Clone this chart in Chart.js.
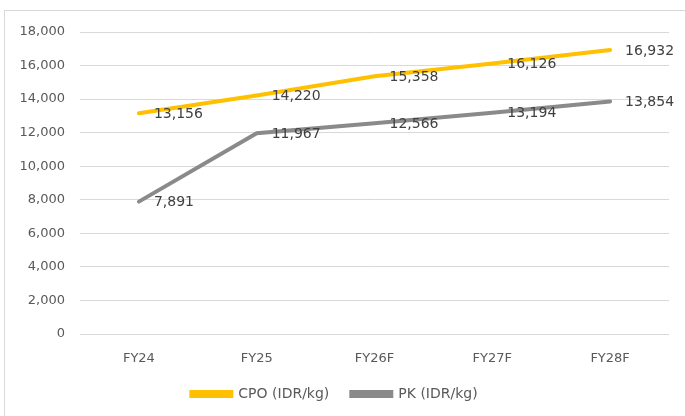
<!DOCTYPE html>
<html>
<head>
<meta charset="utf-8">
<script src="https://cdn.jsdelivr.net/npm/chart.js@4.4.1/dist/chart.umd.min.js"></script>
<style>
    html, body { margin: 0; padding: 0; background: #fff; overflow: hidden; }
    #wrap { position: relative; width: 685px; height: 416px; }
    #frame { position: absolute; left: 4px; top: 10px; width: 700px; height: 430px; border: 1px solid #d9d9d9; box-sizing: border-box; }
    canvas { position: absolute; left: 0; top: 0; }
</style>
</head>
<body>
<div id="wrap">
    <div id="frame"></div>
    <canvas id="priceChart" width="685" height="416"></canvas>
</div>
<script>
const years = ['FY24', 'FY25', 'FY26F', 'FY27F', 'FY28F'];
const cpoPrices = [13156, 14220, 15358, 16126, 16932];
const pkPrices = [7891, 11967, 12566, 13194, 13854];
const yTicks = [0, 2000, 4000, 6000, 8000, 10000, 12000, 14000, 16000, 18000];

const FONT = '"DejaVu Sans", sans-serif';

//  Value labels to the right of each point
const pointLabels = {
    id: 'pointLabels',
    afterDatasetsDraw(chart) {
        const ctx = chart.ctx;
        ctx.save();
        ctx.font = '14px ' + FONT;
        ctx.fillStyle = '#404040';
        ctx.textAlign = 'left';
        ctx.textBaseline = 'middle';
        chart.data.datasets.forEach((ds, i) => {
            chart.getDatasetMeta(i).data.forEach((pt, j) => {
                ctx.fillText(ds.data[j].toLocaleString('en-US'), pt.x + 15, pt.y + 1);
            });
        });
        ctx.restore();
    }
};

new Chart(document.getElementById('priceChart'), {
    type: 'line',
    data: {
        labels: years,
        datasets: [{
            label: 'CPO (IDR/kg)',
            data: cpoPrices,
            borderColor: '#FFC000',
            backgroundColor: '#FFC000',
            borderWidth: 4,
            borderCapStyle: 'round',
            pointRadius: 0,
            tension: 0
        }, {
            label: 'PK (IDR/kg)',
            data: pkPrices,
            borderColor: '#8A8A8A',
            backgroundColor: '#8A8A8A',
            borderWidth: 4,
            borderCapStyle: 'round',
            pointRadius: 0,
            tension: 0
        }]
    },
    options: {
        responsive: false,
        animation: false,
        layout: { padding: { top: 32, right: 16, left: 0, bottom: 5 } },
        plugins: {
            legend: {
                position: 'bottom',
                labels: {
                    boxWidth: 40,
                    boxHeight: 4,
                    padding: 22,
                    color: '#595959',
                    font: { family: FONT, size: 14 }
                }
            },
            tooltip: { enabled: false }
        },
        scales: {
            x: {
                offset: true,
                grid: { display: false, drawTicks: false },
                border: { display: false },
                ticks: { color: '#595959', font: { family: FONT, size: 13 }, padding: 17 },
                afterFit(axis) { axis.height = 31; }
            },
            y: {
                min: 0,
                max: 18000,
                afterBuildTicks(axis) { axis.ticks = yTicks.map(v => ({ value: v })); },
                grid: { color: '#d9d9d9', lineWidth: 1, drawTicks: false },
                border: { display: false },
                ticks: {
                    color: '#595959',
                    font: { family: FONT, size: 13 },
                    padding: 15,
                    callback: v => v.toLocaleString('en-US')
                },
                afterFit(axis) { axis.width = 80; }
            }
        }
    },
    plugins: [pointLabels]
});
</script>
</body>
</html>
